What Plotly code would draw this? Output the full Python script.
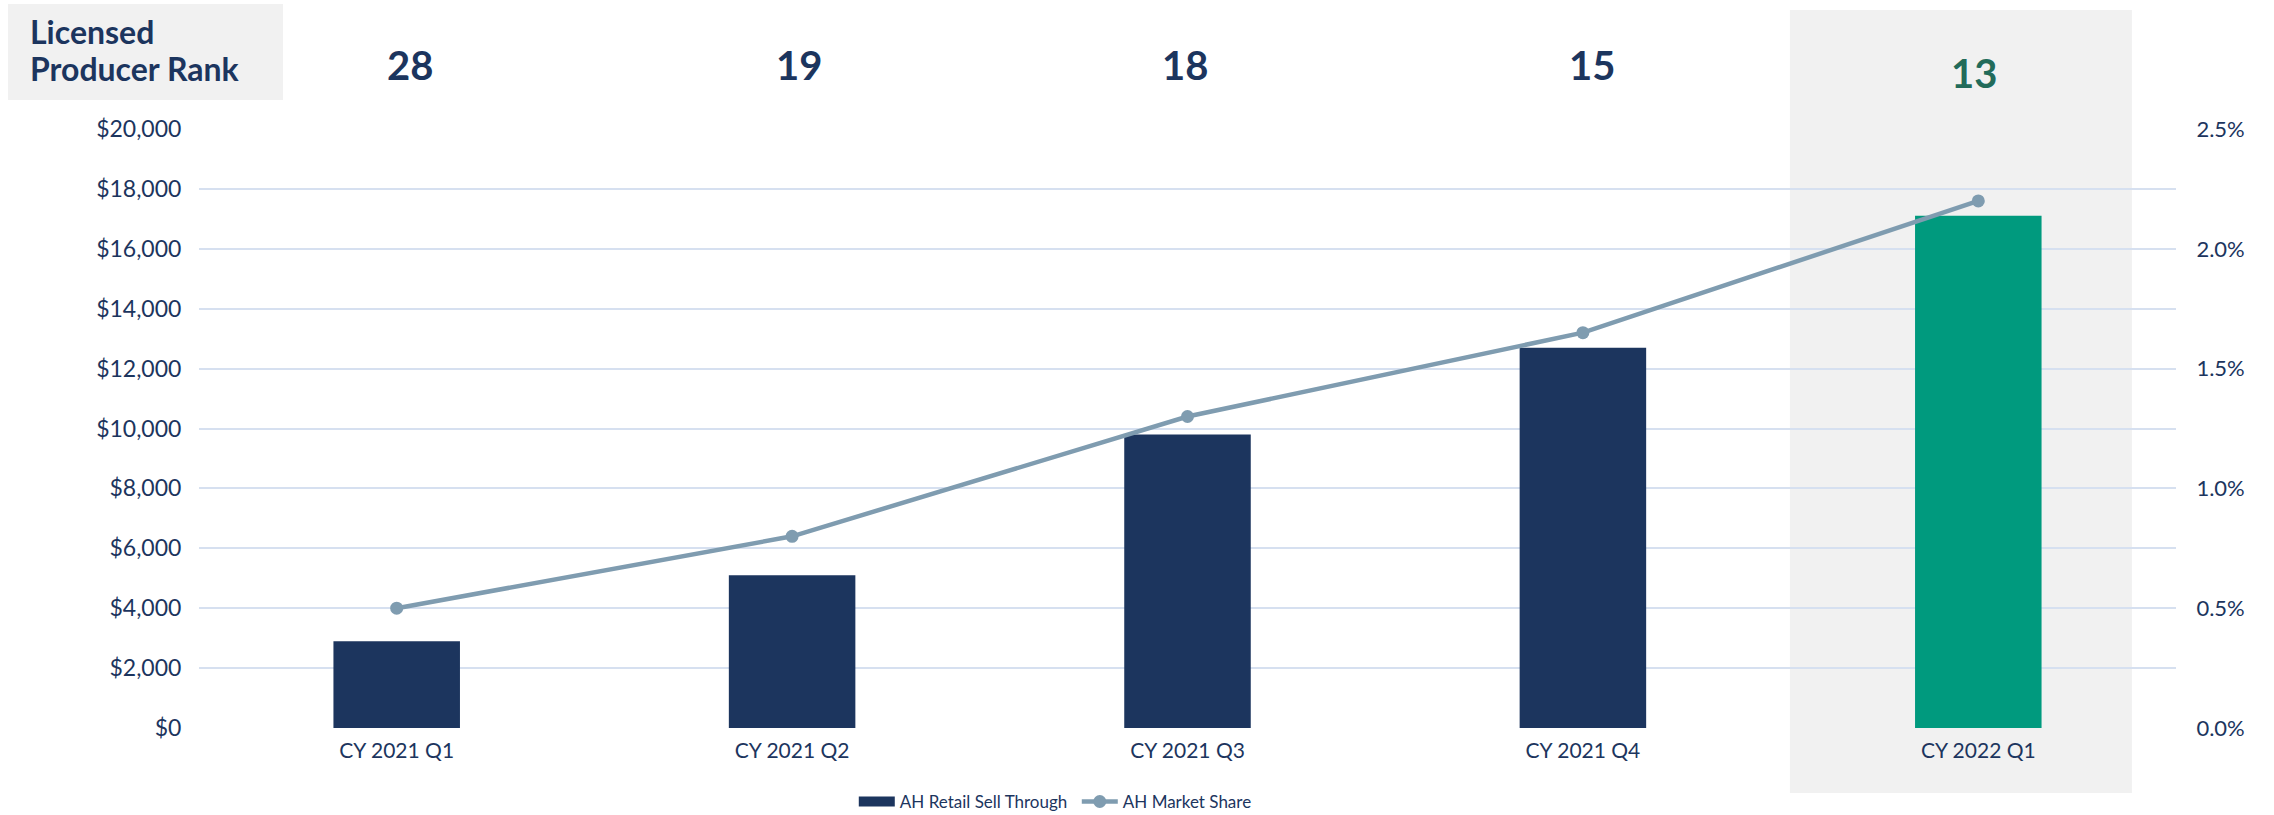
import plotly.graph_objects as go

categories = ["CY 2021 Q1", "CY 2021 Q2", "CY 2021 Q3", "CY 2021 Q4", "CY 2022 Q1"]
retail_sell_through = [2900, 5100, 9800, 12700, 17100]
market_share = [0.5, 0.8, 1.3, 1.65, 2.2]
producer_rank = ["28", "19", "18", "15", "13"]

NAVY = "#1c355e"
GREEN = "#009a7e"
LINE = "#7f9cb0"
FONT = "Lato"

bar_colors = [NAVY, NAVY, NAVY, NAVY, GREEN]
rank_label_nudge = [13, 7, -3, 9, -4]  # small horizontal nudges (px) seen in the original

fig = go.Figure()
fig.add_trace(go.Bar(
    x=categories, y=retail_sell_through, name="AH Retail Sell Through",
    marker=dict(color=bar_colors, line=dict(width=0)), width=0.32,
    yaxis="y", showlegend=False,
))
# legend entry styled as a wide swatch, like the original
fig.add_trace(go.Scatter(
    x=[None], y=[None], name="AH Retail Sell Through", mode="lines",
    line=dict(color=NAVY, width=12), yaxis="y",
))
fig.add_trace(go.Scatter(
    x=categories, y=market_share, name="AH Market Share",
    mode="lines+markers", line=dict(color=LINE, width=4.5),
    marker=dict(color=LINE, size=13), yaxis="y2",
))

# highlight background for latest quarter
fig.add_shape(type="rect", xref="paper", yref="paper",
              x0=0.8047, x1=0.9777, y0=-0.1085, y1=1.1987,
              fillcolor="#f1f1f1", line=dict(width=0), layer="below")
# label box
fig.add_shape(type="rect", xref="paper", yref="paper",
              x0=-0.0966, x1=0.0425, y0=1.0484, y1=1.2087,
              fillcolor="#f1f1f1", line=dict(width=0), layer="below")
for txt, yy in [("Licensed", 1.162), ("Producer Rank", 1.1018)]:
    fig.add_annotation(xref="paper", yref="paper", x=-0.0865, y=yy,
                       xanchor="left", yanchor="middle", align="left",
                       text=f"<b>{txt}</b>", showarrow=False,
                       font=dict(family=FONT, size=32, color=NAVY))

for i, (c, r) in enumerate(zip(categories, producer_rank)):
    last = i == len(categories) - 1
    fig.add_annotation(x=c, xref="x", yref="paper", xshift=rank_label_nudge[i],
                       y=1.094 if last else 1.107, yanchor="middle",
                       text=f"<b>{r}</b>", showarrow=False,
                       font=dict(family=FONT, size=40,
                                 color="#226b5a" if last else NAVY))

fig.update_layout(
    width=2274, height=815,
    margin=dict(l=199, r=98, t=129, b=87, autoexpand=False),
    plot_bgcolor="rgba(0,0,0,0)", paper_bgcolor="white",
    font=dict(family=FONT, size=22, color=NAVY),
    showlegend=True,
    legend=dict(orientation="h", x=0.444, xanchor="center", y=-0.1235,
                yanchor="middle", font=dict(family=FONT, size=17, color=NAVY),
                bgcolor="rgba(0,0,0,0)", traceorder="normal", itemwidth=36,
                entrywidth=172),
    xaxis=dict(showgrid=False, showline=False, zeroline=False,
               ticks="outside", ticklen=4, tickcolor="rgba(0,0,0,0)",
               tickfont=dict(family=FONT, size=21, color=NAVY)),
    yaxis=dict(range=[0, 20000], dtick=2000, tickprefix="$", tickformat=",",
               showgrid=True, gridcolor="#d6e0f0", gridwidth=2,
               zeroline=False, showline=False,
               ticks="outside", ticklen=12, tickcolor="rgba(0,0,0,0)",
               tickfont=dict(family=FONT, size=23, color=NAVY)),
    yaxis2=dict(range=[0, 2.5], dtick=0.5, ticksuffix="%", tickformat=".1f",
                overlaying="y", side="right", showgrid=False, zeroline=False,
                showline=False, ticks="outside", ticklen=15,
                tickcolor="rgba(0,0,0,0)",
                tickfont=dict(family=FONT, size=22, color=NAVY)),
)

fig.write_html("out.html", config={"displayModeBar": False},
               post_script="document.body.style.margin='0';")
